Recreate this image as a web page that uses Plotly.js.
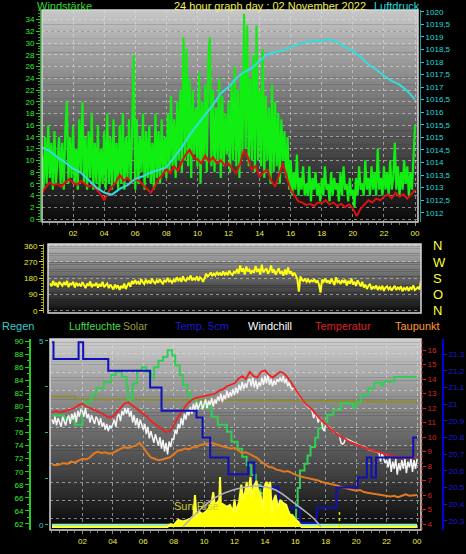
<!DOCTYPE html>
<html><head><meta charset="utf-8">
<script src="https://cdn.plot.ly/plotly-3.0.1.min.js"></script>
<style>html,body{margin:0;padding:0;background:#000;overflow:hidden}#chart{width:466px;height:554px}</style>
</head><body><div id="chart"></div>
<script>
// ---------- DATA ----------
// Panel 1 : wind speed (gust, 6-min steps), mean wind (15-min), pressure (30-min)
const gust = [
11,5,14,6,16,7,13,5,15,6,
10,14,6,13,5,15,20,6,14,7,
16,6,12,5,17,8,20,6,14,5,
15,7,18,5,13,6,16,5,12,6,
15,5,18,6,14,5,17,6,13,5,
16,6,18,5,14,7,17,6,15,28,
5,17,6,14,8,18,5,15,7,16,
6,13,5,18,7,15,6,17,8,14,
7,18,8,21,9,17,7,20,10,22,
8,31,10,29,9,24,7,22,11,19,
9,25,6,20,10,23,8,27,31,9,
22,8,19,10,24,7,21,9,18,11,
20,8,23,10,26,9,22,7,25,11,
35,12,33,9,24,10,28,8,33,10,
22,9,29,7,21,10,19,6,23,8,
20,9,18,6,17,10,15,7,14,5,
10,4,8,5,11,4,7,5,9,4,
6,4,9,3,7,5,8,4,6,3,
7,4,9,5,6,3,8,4,7,5,
6,3,8,4,9,5,6,3,7,4,
5,2,7,4,9,5,6,4,10,5,
7,4,9,5,8,4,12,5,7,4,
9,5,8,4,10,5,7,13,5,9,
4,8,5,10,6,9,4,8,5,10,
16];
const windMean = [
4.4,5.5,6.2,5.8, 6,5.5,6.3,6.8, 6.2,5.8,6.5,6, 5.5,5.8,5,4.3,
3.2,4.5,5.5,6.2, 7.5,6.5,7,6.2, 6.8,6.5,5.8,5.2, 4.5,5.5,6.8,7.5,
8.5,7.8,9,8.2, 9.8,11,11.8,10.5, 10.2,9.5,10.8,9.8, 10.5,9.5,10,9.2,
9.5,8.5,7.8,9.5, 11.8,10.5,8.4,9, 7.2,8,8.4,6.5, 5.5,7.5,9.5,7,
5,4,3,2.8, 2.4,2.6,2.2,2.8, 2.7,3.2,2.5,2.8, 2.2,2.6,2,2.5,
1.8,0.5,1.8,2.5, 3.2,2.8,3.5,3.2, 3.8,4.2,3.5,4.5, 3.8,4.2,3.5,4.2,
5];
const pressure = [
1014.6,1014.45,1014.2,1014.0,1013.75,1013.6,1013.3,1013.0,1012.8,1012.72,
1012.95,1013.1,1013.35,1013.45,1013.6,1013.7,1013.8,1014.2,1014.6,1015.1,
1015.5,1015.9,1016.3,1016.75,1017.0,1017.35,1017.6,1017.75,1018.05,1018.3,
1018.4,1018.45,1018.6,1018.7,1018.8,1018.85,1018.85,1018.9,1018.8,1018.6,
1018.45,1018.2,1017.9,1017.7,1017.45,1017.25,1017.1,1016.85,1016.5];

// Panel 2 : wind direction (6-min steps)
const windDir = [
150,135,165,140,155,130,160,145,138,158,
142,165,130,150,145,160,128,155,140,148,
135,158,142,125,150,138,162,130,145,140,
155,128,148,135,160,130,142,150,125,145,
132,118,145,128,140,115,138,125,150,120,
140,155,132,165,148,170,152,160,145,175,
158,148,172,155,165,150,178,160,152,168,
155,175,160,150,170,158,182,162,168,155,
172,160,185,168,178,160,190,170,165,182,
175,195,168,180,172,190,165,185,178,160,
180,205,190,198,212,192,205,195,215,200,
208,195,218,200,210,196,222,205,198,215,
210,230,205,250,215,235,200,245,218,228,
205,225,210,248,215,232,200,255,212,225,
235,205,220,250,210,228,200,218,235,205,
215,195,228,200,240,205,218,192,210,195,
175,105,190,170,165,178,160,172,158,168,
162,175,155,168,145,100,172,160,178,155,
168,150,175,160,142,185,158,165,148,170,
155,172,140,165,150,178,145,160,138,168,
150,135,160,128,145,120,138,148,118,132,
125,140,115,132,120,138,110,128,135,118,
130,112,125,138,115,128,120,135,108,125,
118,132,110,128,120,140,115,125,130,118,
165];

// Panel 3
const temperature = [
11.7,11.8,11.7,11.75, 11.8,11.9,12.0,12.2, 12.3,12.1,12.0,11.9, 11.8,11.65,11.5,11.35,
11.4,11.7,12.0,12.3, 12.4,12.2,12.0,11.8, 11.6,11.4,11.1,10.9, 10.7,10.5,10.35,10.4,
10.8,11.3,11.7,12.1, 12.4,12.6,12.7,12.75, 12.8,12.9,12.9,13.0, 13.2,13.3,13.5,13.6,
13.7,14.0,14.2,14.0, 14.5,14.2,14.1,14.5, 14.6,14.3,14.1,14.3, 14.5,14.4,14.1,13.7,
13.3,12.9,12.5,12.2, 12.0,11.7,11.4,11.1, 10.9,10.6,10.4,10.2, 10.0,9.9,9.7,9.6,
9.5,9.4,9.3,9.15, 9.1,9.0,8.95,8.9, 8.8,8.7,8.65,8.6, 8.6,8.6,8.6,8.6,
8.6];
const windchill = [
11.2,10.9,11.4,10.8,11.3,11.0,10.7,11.4,11.1,10.8,
11.3,11.5,10.9,11.6,11.2,11.7,11.0,11.8,11.4,11.9,
11.8,11.4,12.0,11.3,11.6,11.0,11.5,11.2,10.9,11.4,
11.2,10.8,11.3,10.7,11.0,10.5,10.9,10.4,10.8,10.6,
10.9,11.2,10.7,11.4,11.6,11.1,11.8,11.5,12.0,11.6,
12.0,11.4,11.8,11.0,11.5,10.8,11.3,10.6,11.2,10.9,
10.5,10.9,10.2,10.7,9.9,10.4,10.0,9.6,10.2,9.8,
9.4,10.0,9.2,9.8,9.0,9.6,8.8,9.7,9.3,9.9,
9.8,10.5,10.2,10.9,10.6,11.3,10.8,11.6,11.2,11.8,
11.5,12.1,11.6,12.3,11.8,12.4,11.9,12.2,12.5,11.9,
12.3,12.6,12.0,12.5,12.2,12.7,12.1,12.6,12.3,12.8,
12.5,13.0,12.4,12.9,12.6,13.2,12.7,13.1,12.8,13.3,
12.9,13.4,13.0,13.6,13.2,13.8,13.3,13.7,13.4,13.9,
14.0,13.5,14.1,13.4,13.9,13.3,13.8,13.5,14.1,13.6,
14.2,13.7,14.3,13.6,14.0,13.5,13.9,13.6,14.0,13.8,
14.1,13.8,14.2,13.7,14.0,13.5,13.8,13.4,13.3,13.4,
13.3,13.1,12.9,12.8,12.6,12.5,12.3,12.2,12.1,12.0,
12.0,11.8,11.3,11.6,11.5,11.0,11.3,11.2,10.6,10.4,
10.9,10.8,10.7,10.6,10.5,10.4,10.3,10.3,10.2,10.1,
9.6,9.5,9.6,9.9,9.85,9.8,9.7,9.65,9.6,9.6,
9.5,9.5,9.45,9.4,9.35,9.3,9.3,9.2,9.15,9.1,
9.1,9.05,9.0,9.0,8.95,8.9,8.3,8.9,8.5,8.2,
8.4,7.9,8.6,7.6,8.3,7.8,8.5,7.4,8.2,7.7,
8.4,7.8,8.5,7.5,8.3,7.9,8.5,7.6,8.4,7.8,
8.5];
const dewpoint = [
8.1,8.05,8.1,8.2, 8.15,8.3,8.25,8.4, 8.5,8.45,8.6,8.85, 9.0,8.9,8.95,8.85,
8.9,9.05,9.2,9.3, 9.25,9.35,9.4,9.6, 9.3,8.9,8.6,8.5, 8.4,8.45,8.5,8.6,
8.8,9.05,9.1,9.2, 9.15,9.3,9.3,9.45, 9.5,9.55,9.6,9.5, 9.4,9.35,9.3,9.2,
9.25,9.05,8.9,8.95, 8.8,8.65,8.55,8.3, 8.1,7.95,7.9,7.75, 7.7,7.6,7.65,7.5,
7.4,7.3,7.25,7.2, 7.1,7.05,7.0,6.9, 6.85,6.8,6.7,6.65, 6.55,6.5,6.45,6.4,
6.3,6.35,6.2,6.15, 6.1,6.1,6.05,6.0, 5.95,5.9,5.95,5.85, 5.95,6.05,5.95,6.0,
6.0];
const humT = [0,0.8,1.5,2.0,2.2,2.6,2.9,3.4,3.9,4.2,4.6,4.9,5.0,5.3,5.6,5.9,6.2,6.5,6.7,7.0,7.3,7.6,7.9,8.1,8.4,8.6,8.9,9.1,9.5,10.1,10.5,10.9,11.5,11.8,
  12.2,12.5,12.8,13.1,13.4,13.7,14.0,14.3,14.6,14.8,15.1,15.3,15.6,15.9,16.05,16.15,16.3,16.6,16.8,17.0,17.3,17.5,17.8,18.1,18.5,19.0,19.5,19.8,20.0,20.3,20.8,21.2,21.6,21.8,22.5,24];
const humV = [78.6,78.0,77.2,79.0,80.7,81.8,82.8,83.7,84.8,85.3,84.5,83.0,81.0,83.5,85.5,86.0,85.3,84.3,86.0,87.0,87.6,88.6,87.8,86.3,84.8,83.3,82.0,81.0,80.2,79.8,78.4,77.2,76.1,74.6,
  73.5,72.3,71.0,69.5,68.0,66.7,65.0,63.5,63.2,65.5,65.0,63.8,63.0,62.3,65.0,67.5,70.2,71.2,72.5,73.8,75.2,76.6,77.6,78.7,79.5,80.5,80.4,79.8,80.6,81.7,82.8,83.6,83.2,83.8,84.5,84.5];
const soilT = [0,0.1,1.75,2.05,3.7,6.45,7.2,9.5,9.9,10.4,11.6,12.9,13.3,14.9,16.3,17.4,18.7,20.1,20.7,21.0,21.3,23.75,24];
const soilV = [21.37,21.27,21.37,21.27,21.2,21.1,20.96,20.92,20.8,20.68,20.58,20.65,20.5,20.38,20.29,20.38,20.5,20.56,20.68,20.56,20.68,20.8,20.8];
const solarT = [0,7.6,7.8,8.0,8.3,8.6,8.9,9.1,9.3,9.4,9.5,9.7,9.9,10.1,10.3,10.5,10.6,10.7,10.9,11.0,11.05,11.1,11.3,11.5,11.7,11.9,12.0,12.1,12.3,12.45,12.55,12.7,12.8,12.9,13.05,13.15,13.3,13.45,13.55,13.7,13.85,13.95,14.1,14.25,14.35,14.45,14.55,14.7,14.85,15.0,15.2,15.4,15.6,15.8,16.0,16.2,16.4,24];
const solarV = [0,0,16,10,38,30,38,45,60,174,50,82,70,82,100,136,190,120,136,150,272,130,120,110,120,82,150,82,136,230,150,190,245,170,272,160,228,250,200,180,98,210,245,217,245,65,140,174,100,147,130,120,70,65,40,27,0,0];
const sunArcT = [8.6,9.7,10.8,11.9,13.4,14.7,16.0,17.1,17.7];
const sunArcV = [0,92,163,201,223,201,125,54,0];
const sunsetT = [18.9,18.9];
const sunsetV = [0,92];
const solarMaxT = [0,1.5,1.6,12,24];
const solarMaxV = [81.5,81.5,81.1,80.9,80.7];
const rainT = [0,24];
const rainV = [0,0];

// tick labels
const hourTicks = [2,4,6,8,10,12,14,16,18,20,22,24];
const hourLabels = ['02','04','06','08','10','12','14','16','18','20','22','00'];
const windTicks = [0,2,4,6,8,10,12,14,16,18,20,22,24,26,28,30,32,34];
const pressTicks = [1012,1012.5,1013,1013.5,1014,1014.5,1015,1015.5,1016,1016.5,1017,1017.5,1018,1018.5,1019,1019.5,1020];
const pressLabels = ['1012','1012,5','1013','1013,5','1014','1014,5','1015','1015,5','1016','1016,5','1017','1017,5','1018','1018,5','1019','1019,5','1020'];
const dirTicks = [0,90,180,270,360];
const dirLabels = ['0','90','180','270','360'];
const compassLabels = ['N','O','S','W','N'];
const humTicks = [62,64,66,68,70,72,74,76,78,80,82,84,86,88,90];
const rainTicks = [0,1.25,2.5,3.75,5];
const rainLabels = ['0','','','','5'];
const tempTicks = [4,5,6,7,8,9,10,11,12,13,14,15,16];
const soilTicks = [20.3,20.4,20.5,20.6,20.7,20.8,20.9,21.0,21.1,21.2,21.3];
const soilLabels = ['20,3','20,4','20,5','20,6','20,7','20,8','20,9','21','21,1','21,2','21,3'];

// ---------- LAYOUT HELPERS ----------
const W = 466, H = 554;
const px = v => v / W;
const py = v => 1 - v / H;
const steps = (n, dt) => Array.from({length: n}, (_, i) => +(i * dt).toFixed(3));
const FONT = 'Liberation Sans, Arial, sans-serif';

const shapes = [];
function gradient(xa, ya, top, bot, n) {
  for (let i = 0; i < n; i++) {
    const f = (i + 0.5) / n;
    const c = top.map((t, k) => Math.round(t + (bot[k] - t) * f));
    shapes.push({type: 'rect', xref: xa + ' domain', yref: ya + ' domain', x0: 0, x1: 1,
      y0: 1 - (i + 1) / n - 0.002, y1: 1 - i / n, fillcolor: `rgb(${c[0]},${c[1]},${c[2]})`,
      line: {width: 0}, layer: 'below'});
  }
}
gradient('x', 'y', [200,200,200], [8,8,8], 60);
gradient('x2', 'y3', [185,185,185], [12,12,12], 30);
gradient('x3', 'y5', [205,205,205], [6,6,6], 60);
function frame(xa, ya) {
  shapes.push({type: 'rect', xref: xa + ' domain', yref: ya + ' domain', x0: 0, x1: 1, y0: 0, y1: 1,
    line: {color: '#d8d8d8', width: 1.5}, fillcolor: 'rgba(0,0,0,0)', layer: 'above'});
}
frame('x', 'y'); frame('x2', 'y3'); frame('x3', 'y5');
// red dotted temperature axis line
shapes.push({type: 'line', xref: 'paper', yref: 'y5 domain', x0: px(422), x1: px(422), y0: 0, y1: 1,
  line: {color: '#dd2222', width: 1, dash: 'dot'}});

const tf = (c, s) => ({family: FONT, size: s || 8, color: c});
const grid = {showgrid: true, gridcolor: 'rgba(225,225,225,0.55)', griddash: 'dot', gridwidth: 1};

const layout = {
  width: W, height: H, margin: {l: 0, r: 0, t: 0, b: 0},
  paper_bgcolor: '#000', plot_bgcolor: '#000', showlegend: false,
  shapes: shapes,
  xaxis: Object.assign({domain: [px(42), px(418)], anchor: 'y', range: [0, 24.19],
    tickvals: hourTicks, ticktext: hourLabels, tickfont: tf('#eeee44'), ticks: 'outside', ticklen: 3,
    tickcolor: '#888', zeroline: false, showline: false,
    minor: {dtick: 0.5, ticks: 'outside', ticklen: 2, tickcolor: '#777', showgrid: false}}, grid),
  yaxis: Object.assign({domain: [py(222), py(10)], anchor: 'free', position: px(40), side: 'left',
    range: [-0.51, 35.65], tickvals: windTicks, tickfont: tf('#33ee33'), ticks: 'outside', ticklen: 4,
    tickcolor: '#22cc22', showline: true, linecolor: '#22aa22', linewidth: 1, zeroline: false,
    minor: {dtick: 0.5, ticks: 'outside', ticklen: 2, tickcolor: '#22aa22', showgrid: false}}, grid),
  yaxis2: {overlaying: 'y', side: 'right', anchor: 'free', position: px(420), range: [1011.63, 1020.07],
    tickvals: pressTicks, ticktext: pressLabels, tickfont: tf('#22dddd'), ticks: 'outside', ticklen: 3,
    tickcolor: '#22cccc', showline: true, linecolor: '#1a9a9a', showgrid: false, zeroline: false},
  xaxis2: {domain: [px(48), px(421)], anchor: 'y3', range: [-0.13, 24], showticklabels: false,
    showgrid: false, zeroline: false, ticks: ''},
  yaxis3: {domain: [py(313), py(244)], anchor: 'free', position: px(43), side: 'left', range: [-12.7, 369.4],
    tickvals: dirTicks, ticktext: dirLabels, tickfont: tf('#eeee22'), ticks: 'outside', ticklen: 4,
    tickcolor: '#dddd22', showline: true, linecolor: '#aaaa22', zeroline: false,
    showgrid: true, gridcolor: 'rgba(225,225,225,0.55)', griddash: 'dot',
    minor: {dtick: 15, ticks: 'outside', ticklen: 2, tickcolor: '#aaaa22', showgrid: false}},
  yaxis4: {overlaying: 'y3', side: 'right', anchor: 'free', position: px(424), range: [-12.7, 369.4],
    tickvals: dirTicks, ticktext: compassLabels, tickfont: tf('#ffff33', 13), ticks: '', showline: false,
    showgrid: false, zeroline: false, ticklabelstandoff: 8},
  xaxis3: Object.assign({domain: [px(50), px(421)], anchor: 'y5', range: [-0.13, 24.26],
    tickvals: hourTicks, ticktext: hourLabels, tickfont: tf('#eeee44'), ticks: 'outside', ticklen: 3,
    tickcolor: '#888', zeroline: false, showline: false,
    minor: {dtick: 0.5, ticks: 'outside', ticklen: 2, tickcolor: '#777', showgrid: false}}, grid),
  yaxis5: {domain: [py(530), py(339)], anchor: 'free', position: px(30), side: 'left', range: [61.08, 90.31],
    tickvals: humTicks, tickfont: tf('#33ee33'), ticks: 'outside', ticklen: 4, tickcolor: '#22cc22',
    showline: true, linecolor: '#22cc22', linewidth: 2, showgrid: false, zeroline: false,
    minor: {dtick: 1, ticks: 'outside', ticklen: 2, tickcolor: '#22cc22', showgrid: false}},
  yaxis6: {overlaying: 'y5', side: 'left', anchor: 'free', position: px(48), range: [-0.136, 5.054],
    tickvals: rainTicks, ticktext: rainLabels, tickfont: tf('#33cccc'), ticks: 'outside', ticklen: 3,
    tickcolor: '#33aaaa', showline: false, zeroline: false, showgrid: false},
  yaxis7: {overlaying: 'y5', side: 'right', anchor: 'free', position: px(422), range: [3.586, 16.76],
    tickvals: tempTicks, tickfont: tf('#dd2222'), ticks: 'outside', ticklen: 3, tickcolor: '#dd2222',
    showline: false, showgrid: false, zeroline: false},
  yaxis8: {overlaying: 'y5', side: 'right', anchor: 'free', position: px(443), range: [20.246, 21.39],
    tickvals: soilTicks, ticktext: soilLabels, tickfont: tf('#1a1add'), ticks: 'outside', ticklen: 3,
    tickcolor: '#1a1acc', showline: true, linecolor: '#0000dd', linewidth: 2, showgrid: false, zeroline: false},
  yaxis9: {overlaying: 'y5', visible: false, range: [-16.3, 1021.7]},
  yaxis10: {overlaying: 'y5', anchor: 'x3', range: [0, 10.4], tickvals: [0.6,1.6,2.6,3.6,4.6,5.6,6.6,7.6,8.6,9.6],
    showticklabels: false, ticks: '', showline: false, zeroline: false,
    showgrid: true, gridcolor: 'rgba(225,225,225,0.55)', griddash: 'dot'},
  annotations: [
    {text: 'Windstärke', x: px(35), y: py(6), xanchor: 'left', yanchor: 'middle', font: tf('#33dd33', 11)},
    {text: '24 hour graph day : 02 November 2022', x: px(172), y: py(6), xanchor: 'left', yanchor: 'middle', font: tf('#eeee55', 11)},
    {text: 'Luftdruck', x: px(372), y: py(6), xanchor: 'left', yanchor: 'middle', font: tf('#22dddd', 11)},
    {text: 'Regen', x: px(0), y: py(326), xanchor: 'left', yanchor: 'middle', font: tf('#33cccc', 11)},
    {text: 'Luftfeuchte', x: px(67), y: py(326), xanchor: 'left', yanchor: 'middle', font: tf('#44dd44', 10.5)},
    {text: 'Solar', x: px(121), y: py(326), xanchor: 'left', yanchor: 'middle', font: tf('#9a9a3a', 10.5)},
    {text: 'Temp. 5cm', x: px(173), y: py(326), xanchor: 'left', yanchor: 'middle', font: tf('#1a1acc', 11)},
    {text: 'Windchill', x: px(246), y: py(326), xanchor: 'left', yanchor: 'middle', font: tf('#ffffff', 11)},
    {text: 'Temperatur', x: px(313), y: py(326), xanchor: 'left', yanchor: 'middle', font: tf('#dd2222', 11)},
    {text: 'Taupunkt', x: px(393), y: py(326), xanchor: 'left', yanchor: 'middle', font: tf('#ff9933', 11)},
    {text: 'Sun Rise', xref: 'x3', yref: 'y9', x: 9.5, y: 114, xanchor: 'center', yanchor: 'middle',
      showarrow: false, font: tf('#cccc33', 11)}
  ].map(a => Object.assign({xref: 'paper', yref: 'paper', showarrow: false}, a))
};

const line = (c, w, extra) => Object.assign({color: c, width: w}, extra || {});
const traces = [
  {x: steps(gust.length, 0.1), y: gust, xaxis: 'x', yaxis: 'y', mode: 'lines', line: line('#11ee11', 2.2)},
  {x: steps(windMean.length, 0.25), y: windMean, xaxis: 'x', yaxis: 'y', mode: 'lines', line: line('#dd1111', 2)},
  {x: steps(pressure.length, 0.5), y: pressure, xaxis: 'x', yaxis: 'y2', mode: 'lines', line: line('#33dddd', 2)},

  {x: steps(windDir.length, 0.1), y: windDir, xaxis: 'x2', yaxis: 'y3', mode: 'lines', line: line('#ffff11', 2)},
  {x: [0], y: [null], xaxis: 'x2', yaxis: 'y4', mode: 'lines', hoverinfo: 'skip'},

  {x: [0], y: [null], xaxis: 'x3', yaxis: 'y10', mode: 'lines', hoverinfo: 'skip'},
  {x: solarT, y: solarV, xaxis: 'x3', yaxis: 'y9', mode: 'lines', fill: 'tozeroy', fillcolor: '#ffff00', line: line('#ffff33', 2)},
  {x: sunArcT, y: sunArcV, xaxis: 'x3', yaxis: 'y9', mode: 'lines', line: line('#b4b4b4', 1.5, {shape: 'spline'})},
  {x: sunsetT, y: sunsetV, xaxis: 'x3', yaxis: 'y9', mode: 'lines', line: line('#dddd00', 1.5, {dash: 'dot'})},
  {x: solarMaxT, y: solarMaxV, xaxis: 'x3', yaxis: 'y5', mode: 'lines', line: line('#8c8c30', 2)},
  {x: soilT, y: soilV, xaxis: 'x3', yaxis: 'y8', mode: 'lines', line: line('#1010bb', 2, {shape: 'hv'})},
  {x: humT, y: humV, xaxis: 'x3', yaxis: 'y5', mode: 'lines', line: line('#33cc55', 2, {shape: 'hv'})},
  {x: steps(dewpoint.length, 0.25), y: dewpoint, xaxis: 'x3', yaxis: 'y7', mode: 'lines', line: line('#e07a20', 2)},
  {x: steps(windchill.length, 0.1), y: windchill, xaxis: 'x3', yaxis: 'y7', mode: 'lines', line: line('#f4f4f4', 1.5)},
  {x: steps(temperature.length, 0.25), y: temperature, xaxis: 'x3', yaxis: 'y7', mode: 'lines', line: line('#ee2222', 1.8)},
  {x: rainT, y: rainV, xaxis: 'x3', yaxis: 'y6', mode: 'lines', line: line('#99eebb', 2.5)}
];

Plotly.newPlot('chart', traces, layout, {staticPlot: true, displayModeBar: false});
</script></body></html>
